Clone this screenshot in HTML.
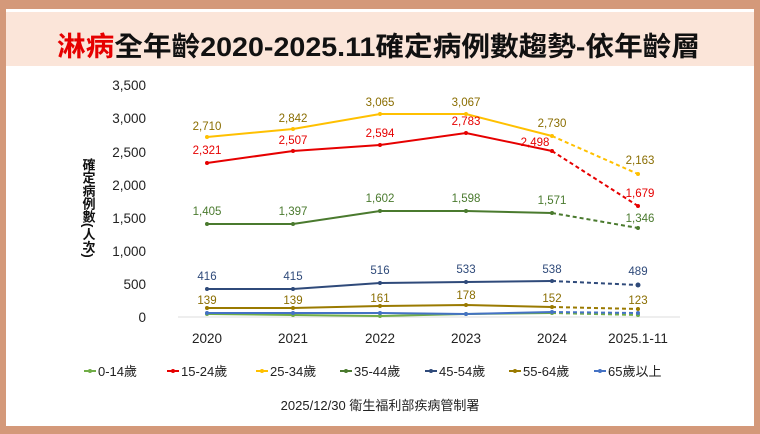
<!DOCTYPE html>
<html><head><meta charset="utf-8"><style>
body{margin:0;width:760px;height:434px;overflow:hidden;background:#d4997a;font-family:"Liberation Sans","Noto Sans CJK TC",sans-serif}
</style></head><body>
<svg width="760" height="434" xmlns="http://www.w3.org/2000/svg" style="position:absolute;left:0;top:0;font-family:'Liberation Sans','Noto Sans CJK TC',sans-serif">
<rect x="0" y="0" width="760" height="434" fill="#d4997a"/>
<rect x="6" y="9" width="748" height="417" fill="#fff"/>
<rect x="6" y="12" width="748" height="54" fill="#fbe5d9"/>
<text x="57" y="56" font-size="27" font-weight="bold" fill="#111" textLength="643" lengthAdjust="spacingAndGlyphs"><tspan fill="#e60000">淋病</tspan>全年齡2020-2025.11確定病例數趨勢-依年齡層</text>
<g font-size="13.5" fill="#222" text-anchor="end">
<text x="146" y="90">3,500</text><text x="146" y="123">3,000</text><text x="146" y="157">2,500</text><text x="146" y="190">2,000</text><text x="146" y="223">1,500</text><text x="146" y="256">1,000</text><text x="146" y="289">500</text><text x="146" y="322">0</text>
</g>
<line x1="178" y1="317" x2="680" y2="317" stroke="#ddd"/>
<text font-size="13" fill="#111" font-weight="bold" x="88" y="158" style="writing-mode:vertical-rl" >確定病例數(人次)</text>
<g font-size="13.5" fill="#222" text-anchor="middle">
<text x="207" y="343">2020</text><text x="293" y="343">2021</text><text x="380" y="343">2022</text><text x="466" y="343">2023</text><text x="552" y="343">2024</text><text x="638" y="343">2025.1-11</text>
</g>
<g fill="none" stroke-width="2">
<polyline points="207,314 293,315 380,316 466,314 552,313" stroke="#70ad47"/><polyline points="552,313 638,315" stroke="#70ad47" stroke-dasharray="4,3"/>
<polyline points="207,313 293,313 380,313 466,314 552,312" stroke="#4472c4"/><polyline points="552,312 638,313" stroke="#4472c4" stroke-dasharray="4,3"/>
<polyline points="207,308 293,308 380,306 466,305 552,307" stroke="#9a7a00"/><polyline points="552,307 638,309" stroke="#9a7a00" stroke-dasharray="4,3"/>
<polyline points="207,289 293,289 380,283 466,282 552,281" stroke="#2f4a7a"/><polyline points="552,281 638,285" stroke="#2f4a7a" stroke-dasharray="4,3"/>
<polyline points="207,224 293,224 380,211 466,211 552,213" stroke="#4a7a2e"/><polyline points="552,213 638,228" stroke="#4a7a2e" stroke-dasharray="4,3"/>
<polyline points="207,163 293,151 380,145 466,133 552,151" stroke="#e60000"/><polyline points="552,151 638,206" stroke="#e60000" stroke-dasharray="4,3"/>
<polyline points="207,137 293,129 380,114 466,114 552,136" stroke="#ffc000"/><polyline points="552,136 638,174" stroke="#ffc000" stroke-dasharray="4,3"/>
</g>
<g>
<g fill="#70ad47"><circle cx="207" cy="314" r="2"/><circle cx="293" cy="315" r="2"/><circle cx="380" cy="316" r="2"/><circle cx="466" cy="314" r="2"/><circle cx="552" cy="313" r="2"/><circle cx="638" cy="315" r="2"/></g>
<g fill="#4472c4"><circle cx="207" cy="313" r="2"/><circle cx="293" cy="313" r="2"/><circle cx="380" cy="313" r="2"/><circle cx="466" cy="314" r="2"/><circle cx="552" cy="312" r="2"/><circle cx="638" cy="313" r="2"/></g>
<g fill="#9a7a00"><circle cx="207" cy="308" r="2"/><circle cx="293" cy="308" r="2"/><circle cx="380" cy="306" r="2"/><circle cx="466" cy="305" r="2"/><circle cx="552" cy="307" r="2"/><circle cx="638" cy="309" r="2"/></g>
<g fill="#2f4a7a"><circle cx="207" cy="289" r="2"/><circle cx="293" cy="289" r="2"/><circle cx="380" cy="283" r="2"/><circle cx="466" cy="282" r="2"/><circle cx="552" cy="281" r="2"/><circle cx="638" cy="285" r="2.5"/></g>
<g fill="#4a7a2e"><circle cx="207" cy="224" r="2"/><circle cx="293" cy="224" r="2"/><circle cx="380" cy="211" r="2"/><circle cx="466" cy="211" r="2"/><circle cx="552" cy="213" r="2"/><circle cx="638" cy="228" r="2"/></g>
<g fill="#e60000"><circle cx="207" cy="163" r="2"/><circle cx="293" cy="151" r="2"/><circle cx="380" cy="145" r="2"/><circle cx="466" cy="133" r="2"/><circle cx="552" cy="151" r="2"/><circle cx="638" cy="206" r="2"/></g>
<g fill="#ffc000"><circle cx="207" cy="137" r="2"/><circle cx="293" cy="129" r="2"/><circle cx="380" cy="114" r="2"/><circle cx="466" cy="114" r="2"/><circle cx="552" cy="136" r="2"/><circle cx="638" cy="174" r="2"/></g>
</g>
<g font-size="11.5" text-anchor="middle">
<g fill="#8a6d00"><text x="207" y="130">2,710</text><text x="293" y="122">2,842</text><text x="380" y="106">3,065</text><text x="466" y="106">3,067</text><text x="552" y="127">2,730</text><text x="640" y="164">2,163</text></g>
<g fill="#e60000"><text x="207" y="154">2,321</text><text x="293" y="144">2,507</text><text x="380" y="137">2,594</text><text x="466" y="125">2,783</text><text x="535" y="146">2,498</text><text x="640" y="197">1,679</text></g>
<g fill="#4a7a2e"><text x="207" y="215">1,405</text><text x="293" y="215">1,397</text><text x="380" y="202">1,602</text><text x="466" y="202">1,598</text><text x="552" y="204">1,571</text><text x="640" y="222">1,346</text></g>
<g fill="#2f4a7a"><text x="207" y="280">416</text><text x="293" y="280">415</text><text x="380" y="274">516</text><text x="466" y="273">533</text><text x="552" y="273">538</text><text x="638" y="275">489</text></g>
<g fill="#8a6d00"><text x="207" y="304">139</text><text x="293" y="304">139</text><text x="380" y="302">161</text><text x="466" y="299">178</text><text x="552" y="302">152</text><text x="638" y="304">123</text></g>
</g>
<g font-size="13" fill="#222">
<line x1="84" y1="371" x2="96" y2="371" stroke="#70ad47" stroke-width="2"/><circle cx="90" cy="371" r="2" fill="#70ad47"/><text x="98" y="376">0-14歲</text>
<line x1="167" y1="371" x2="179" y2="371" stroke="#e60000" stroke-width="2"/><circle cx="173" cy="371" r="2" fill="#e60000"/><text x="181" y="376">15-24歲</text>
<line x1="256" y1="371" x2="268" y2="371" stroke="#ffc000" stroke-width="2"/><circle cx="262" cy="371" r="2" fill="#ffc000"/><text x="270" y="376">25-34歲</text>
<line x1="340" y1="371" x2="352" y2="371" stroke="#4a7a2e" stroke-width="2"/><circle cx="346" cy="371" r="2" fill="#4a7a2e"/><text x="354" y="376">35-44歲</text>
<line x1="425" y1="371" x2="437" y2="371" stroke="#2f4a7a" stroke-width="2"/><circle cx="431" cy="371" r="2" fill="#2f4a7a"/><text x="439" y="376">45-54歲</text>
<line x1="509" y1="371" x2="521" y2="371" stroke="#9a7a00" stroke-width="2"/><circle cx="515" cy="371" r="2" fill="#9a7a00"/><text x="523" y="376">55-64歲</text>
<line x1="594" y1="371" x2="606" y2="371" stroke="#4472c4" stroke-width="2"/><circle cx="600" cy="371" r="2" fill="#4472c4"/><text x="608" y="376">65歲以上</text>
</g>
<text x="380" y="410" text-anchor="middle" font-size="13" fill="#222">2025/12/30 衛生福利部疾病管制署</text>
</svg>
</body></html>
